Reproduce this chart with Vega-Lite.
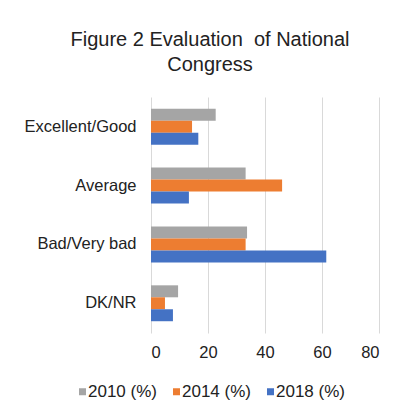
{
  "$schema": "https://vega.github.io/schema/vega-lite/v6.json",
  "width": 228,
  "height": 236,
  "autosize": "none",
  "padding": {"left": 151, "top": 97, "right": 21, "bottom": 85},
  "background": "white",
  "title": {
    "text": ["Figure 2 Evaluation \u00a0of National", "Congress"],
    "font": "Liberation Sans",
    "fontSize": 20,
    "fontWeight": "normal",
    "color": "#222222",
    "anchor": "middle",
    "dx": -55,
    "offset": 22,
    "lineHeight": 25
  },
  "data": {
    "values": [
      {"category": "Excellent/Good", "series": "2010 (%)", "value": 22.7},
      {"category": "Excellent/Good", "series": "2014 (%)", "value": 14.4},
      {"category": "Excellent/Good", "series": "2018 (%)", "value": 16.6},
      {"category": "Average", "series": "2010 (%)", "value": 33.2},
      {"category": "Average", "series": "2014 (%)", "value": 46.0},
      {"category": "Average", "series": "2018 (%)", "value": 13.3},
      {"category": "Bad/Very bad", "series": "2010 (%)", "value": 33.7},
      {"category": "Bad/Very bad", "series": "2014 (%)", "value": 33.2},
      {"category": "Bad/Very bad", "series": "2018 (%)", "value": 61.5},
      {"category": "DK/NR", "series": "2010 (%)", "value": 9.5},
      {"category": "DK/NR", "series": "2014 (%)", "value": 4.9},
      {"category": "DK/NR", "series": "2018 (%)", "value": 7.7}
    ]
  },
  "mark": {"type": "bar"},
  "encoding": {
    "y": {
      "field": "category",
      "type": "nominal",
      "sort": ["Excellent/Good", "Average", "Bad/Very bad", "DK/NR"],
      "scale": {"paddingInner": 0.39, "paddingOuter": 0.2},
      "axis": {
        "title": null,
        "domain": false,
        "ticks": false,
        "labelPadding": 15,
        "labelFont": "Liberation Sans",
        "labelFontSize": 16.5,
        "labelColor": "#222222"
      }
    },
    "yOffset": {
      "field": "series",
      "type": "nominal",
      "sort": ["2010 (%)", "2014 (%)", "2018 (%)"]
    },
    "x": {
      "field": "value",
      "type": "quantitative",
      "scale": {"domain": [0, 80], "nice": false},
      "axis": {
        "title": null,
        "values": [0, 20, 40, 60, 80],
        "domain": false,
        "ticks": false,
        "grid": true,
        "gridColor": "#d9d9d9",
        "gridWidth": 1,
        "labelPadding": 11,
        "labelFont": "Liberation Sans",
        "labelFontSize": 16.5,
        "labelColor": "#222222"
      }
    },
    "color": {
      "field": "series",
      "type": "nominal",
      "scale": {
        "domain": ["2010 (%)", "2014 (%)", "2018 (%)"],
        "range": ["#A5A5A5", "#ED7D31", "#4472C4"]
      },
      "legend": {
        "title": null,
        "orient": "none",
        "direction": "horizontal",
        "legendX": -77,
        "legendY": 286,
        "symbolType": "square",
        "symbolSize": 49,
        "symbolStrokeWidth": 0,
        "labelFont": "Liberation Sans",
        "labelFontSize": 17,
        "labelColor": "#222222",
        "labelOffset": -3,
        "columnPadding": 11
      }
    }
  },
  "config": {"view": {"stroke": null}}
}
